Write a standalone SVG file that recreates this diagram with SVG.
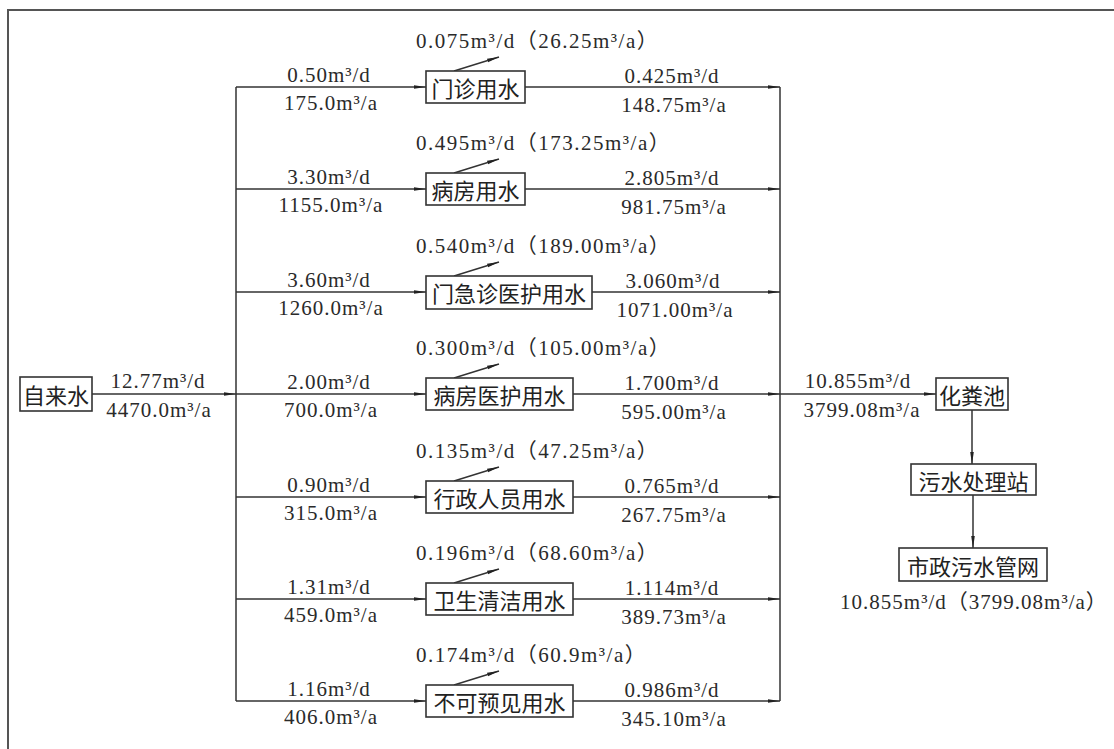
<svg xmlns="http://www.w3.org/2000/svg" width="1114" height="749" viewBox="0 0 1114 749">
<style>
.bg{fill:#ffffff}
.frame{stroke:#555;stroke-width:2;fill:none}
.box{fill:#fff;stroke:#333;stroke-width:1.6}
.ln{stroke:#333;stroke-width:1.5;fill:none}
.cn{font-family:"Noto Sans CJK SC","Noto Sans CJK JP",sans-serif;font-size:22px;fill:#222;text-anchor:middle;dominant-baseline:central}
.lb{font-family:"Liberation Serif","Noto Sans CJK SC",serif;font-size:21px;fill:#2a2a2a;letter-spacing:1px}
.an{letter-spacing:1.5px}
.mid{text-anchor:middle}
</style>
<defs>
<marker id="ah" markerUnits="userSpaceOnUse" markerWidth="12" markerHeight="6" refX="12" refY="3" orient="auto">
<path d="M0,1.2 L12,3 L0,4.8 z" fill="#222"/>
</marker>
</defs>
<rect class="bg" x="0" y="0" width="1114" height="749"/>
<path class="frame" d="M8,749 V10 H1114"/>

<g id="connectors">
<line class="ln" x1="92" y1="394" x2="236" y2="394" marker-end="url(#ah)"/>
<line class="ln" x1="236" y1="87" x2="236" y2="701"/>
<line class="ln" x1="780" y1="87" x2="780" y2="701"/>
<line class="ln" x1="236" y1="87" x2="426" y2="87" marker-end="url(#ah)"/>
<line class="ln" x1="236" y1="189" x2="426" y2="189" marker-end="url(#ah)"/>
<line class="ln" x1="236" y1="292" x2="426" y2="292" marker-end="url(#ah)"/>
<line class="ln" x1="236" y1="394" x2="426" y2="394" marker-end="url(#ah)"/>
<line class="ln" x1="236" y1="497" x2="426" y2="497" marker-end="url(#ah)"/>
<line class="ln" x1="236" y1="599" x2="426" y2="599" marker-end="url(#ah)"/>
<line class="ln" x1="236" y1="701" x2="426" y2="701" marker-end="url(#ah)"/>
<line class="ln" x1="525" y1="87" x2="780" y2="87" marker-end="url(#ah)"/>
<line class="ln" x1="525" y1="189" x2="780" y2="189" marker-end="url(#ah)"/>
<line class="ln" x1="592" y1="292" x2="780" y2="292" marker-end="url(#ah)"/>
<line class="ln" x1="573" y1="394" x2="780" y2="394" marker-end="url(#ah)"/>
<line class="ln" x1="573" y1="497" x2="780" y2="497" marker-end="url(#ah)"/>
<line class="ln" x1="573" y1="599" x2="780" y2="599" marker-end="url(#ah)"/>
<line class="ln" x1="573" y1="701" x2="780" y2="701" marker-end="url(#ah)"/>
<line class="ln" x1="454" y1="71" x2="499" y2="57" marker-end="url(#ah)"/>
<line class="ln" x1="454" y1="173" x2="499" y2="159" marker-end="url(#ah)"/>
<line class="ln" x1="454" y1="276" x2="499" y2="262" marker-end="url(#ah)"/>
<line class="ln" x1="454" y1="378" x2="499" y2="364" marker-end="url(#ah)"/>
<line class="ln" x1="454" y1="481" x2="499" y2="467" marker-end="url(#ah)"/>
<line class="ln" x1="454" y1="583" x2="499" y2="569" marker-end="url(#ah)"/>
<line class="ln" x1="454" y1="685" x2="499" y2="671" marker-end="url(#ah)"/>
<line class="ln" x1="780" y1="394" x2="936" y2="394" marker-end="url(#ah)"/>
<line class="ln" x1="972" y1="410" x2="972" y2="464" marker-end="url(#ah)"/>
<line class="ln" x1="973" y1="495" x2="973" y2="548" marker-end="url(#ah)"/>
</g>

<g id="labels">
<text class="lb mid" x="158" y="388">12.77m³/d</text>
<text class="lb mid" x="159" y="417">4470.0m³/a</text>

<text class="lb mid" x="329" y="82">0.50m³/d</text>
<text class="lb mid" x="331" y="110">175.0m³/a</text>
<text class="lb mid" x="329" y="184">3.30m³/d</text>
<text class="lb mid" x="331" y="212">1155.0m³/a</text>
<text class="lb mid" x="329" y="287">3.60m³/d</text>
<text class="lb mid" x="331" y="315">1260.0m³/a</text>
<text class="lb mid" x="329" y="389">2.00m³/d</text>
<text class="lb mid" x="331" y="417">700.0m³/a</text>
<text class="lb mid" x="329" y="492">0.90m³/d</text>
<text class="lb mid" x="331" y="520">315.0m³/a</text>
<text class="lb mid" x="329" y="594">1.31m³/d</text>
<text class="lb mid" x="331" y="622">459.0m³/a</text>
<text class="lb mid" x="329" y="696">1.16m³/d</text>
<text class="lb mid" x="331" y="724">406.0m³/a</text>

<text class="lb an" x="416" y="48">0.075m³/d（26.25m³/a）</text>
<text class="lb an" x="416" y="150">0.495m³/d（173.25m³/a）</text>
<text class="lb an" x="416" y="253">0.540m³/d（189.00m³/a）</text>
<text class="lb an" x="416" y="355">0.300m³/d（105.00m³/a）</text>
<text class="lb an" x="416" y="458">0.135m³/d（47.25m³/a）</text>
<text class="lb an" x="416" y="560">0.196m³/d（68.60m³/a）</text>
<text class="lb an" x="416" y="662">0.174m³/d（60.9m³/a）</text>

<text class="lb mid" x="672" y="83">0.425m³/d</text>
<text class="lb mid" x="674" y="112">148.75m³/a</text>
<text class="lb mid" x="672" y="185">2.805m³/d</text>
<text class="lb mid" x="674" y="214">981.75m³/a</text>
<text class="lb mid" x="673" y="288">3.060m³/d</text>
<text class="lb mid" x="675" y="317">1071.00m³/a</text>
<text class="lb mid" x="672" y="390">1.700m³/d</text>
<text class="lb mid" x="674" y="419">595.00m³/a</text>
<text class="lb mid" x="672" y="493">0.765m³/d</text>
<text class="lb mid" x="674" y="522">267.75m³/a</text>
<text class="lb mid" x="672" y="595">1.114m³/d</text>
<text class="lb mid" x="674" y="624">389.73m³/a</text>
<text class="lb mid" x="672" y="697">0.986m³/d</text>
<text class="lb mid" x="674" y="726">345.10m³/a</text>

<text class="lb mid" x="858" y="388">10.855m³/d</text>
<text class="lb mid" x="862" y="417">3799.08m³/a</text>
<text class="lb mid" x="974" y="609">10.855m³/d（3799.08m³/a）</text>
</g>

<g id="n-zilaishui"><rect class="box" x="20" y="377" width="72" height="34"/><text class="cn" x="56" y="394">自来水</text></g>
<g id="n-menzhen"><rect class="box" x="426" y="71" width="99" height="32"/><text class="cn" x="475.5" y="87">门诊用水</text></g>
<g id="n-bingfang"><rect class="box" x="426" y="173" width="99" height="32"/><text class="cn" x="475.5" y="189">病房用水</text></g>
<g id="n-menjizhen"><rect class="box" x="426" y="276" width="166" height="33"/><text class="cn" x="509" y="292">门急诊医护用水</text></g>
<g id="n-bingfangyihu"><rect class="box" x="426" y="378" width="147" height="32"/><text class="cn" x="499.5" y="394">病房医护用水</text></g>
<g id="n-xingzheng"><rect class="box" x="426" y="481" width="147" height="32"/><text class="cn" x="499.5" y="497">行政人员用水</text></g>
<g id="n-weisheng"><rect class="box" x="426" y="583" width="147" height="32"/><text class="cn" x="499.5" y="599">卫生清洁用水</text></g>
<g id="n-bukeyujian"><rect class="box" x="426" y="685" width="147" height="32"/><text class="cn" x="499.5" y="701">不可预见用水</text></g>
<g id="n-huafenchi"><rect class="box" x="936" y="378" width="72" height="32"/><text class="cn" x="972" y="394">化粪池</text></g>
<g id="n-wushui"><rect class="box" x="911" y="464" width="125" height="31"/><text class="cn" x="973.5" y="479.5">污水处理站</text></g>
<g id="n-shizheng"><rect class="box" x="899" y="548" width="148" height="33"/><text class="cn" x="973" y="564.5">市政污水管网</text></g>
</svg>
